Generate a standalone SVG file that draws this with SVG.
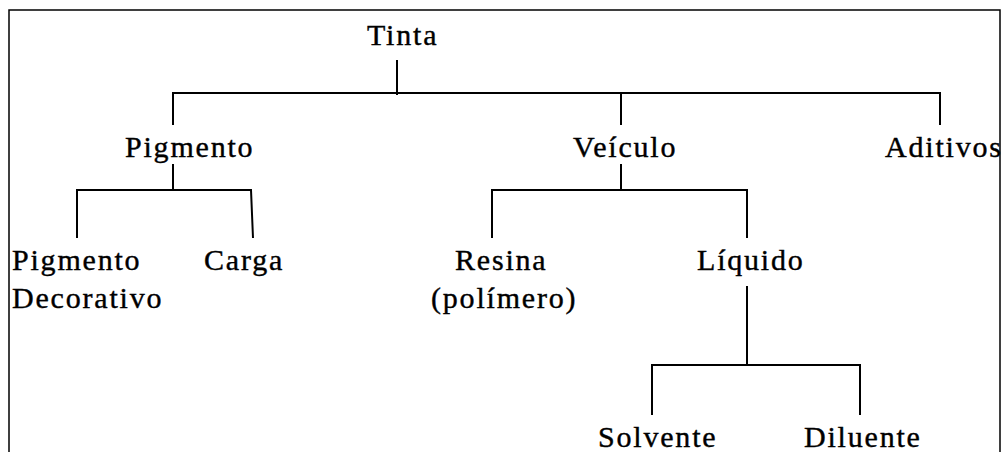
<svg xmlns="http://www.w3.org/2000/svg" width="1002" height="452" viewBox="0 0 1002 452">
  <style>
    .lbl { font-size: 30px; letter-spacing: 1.8px; fill: #000; stroke: #000; stroke-width: 0.4; }
    .ln { fill: none; stroke: #000; stroke-width: 2; }
    .frame { fill: none; stroke: #000; stroke-width: 1.5; }
  </style>
  <rect width="1002" height="452" fill="#fff"/>
  <!-- outer frame, open at the bottom edge -->
  <path class="frame" d="M9,460 V10 H1000 V460"/>

  <g id="connectors">
    <path class="ln" d="M397,60 V95"/>
    <path class="ln" d="M173,125 V93 H940 V125"/>
    <path class="ln" d="M621,93 V125"/>
    <path class="ln" d="M173,164 V190"/>
    <path class="ln" d="M77,238 V190 H251 L253,238"/>
    <path class="ln" d="M621,164 V190"/>
    <path class="ln" d="M492,238 V190 H747 V238"/>
    <path class="ln" d="M747,286 V365"/>
    <path class="ln" d="M652,415 V365 H860 V415"/>
  </g>

  <g font-family="Liberation Serif">
    <g id="tinta"><text class="lbl" x="367" y="45">Tinta</text></g>
    <g id="pigmento"><text class="lbl" x="125" y="157">Pigmento</text></g>
    <g id="veiculo"><text class="lbl" x="573" y="157">Veículo</text></g>
    <g id="aditivos"><text class="lbl" x="885" y="157">Aditivos</text></g>
    <g id="pigmento-decorativo">
      <text class="lbl" x="12" y="270">Pigmento</text>
      <text class="lbl" x="12" y="308">Decorativo</text>
    </g>
    <g id="carga"><text class="lbl" x="204" y="270">Carga</text></g>
    <g id="resina">
      <text class="lbl" x="455" y="270">Resina</text>
      <text class="lbl" x="431" y="308">(polímero)</text>
    </g>
    <g id="liquido"><text class="lbl" x="697" y="270">Líquido</text></g>
    <g id="solvente"><text class="lbl" x="598" y="447">Solvente</text></g>
    <g id="diluente"><text class="lbl" x="804" y="447">Diluente</text></g>
  </g>
</svg>
